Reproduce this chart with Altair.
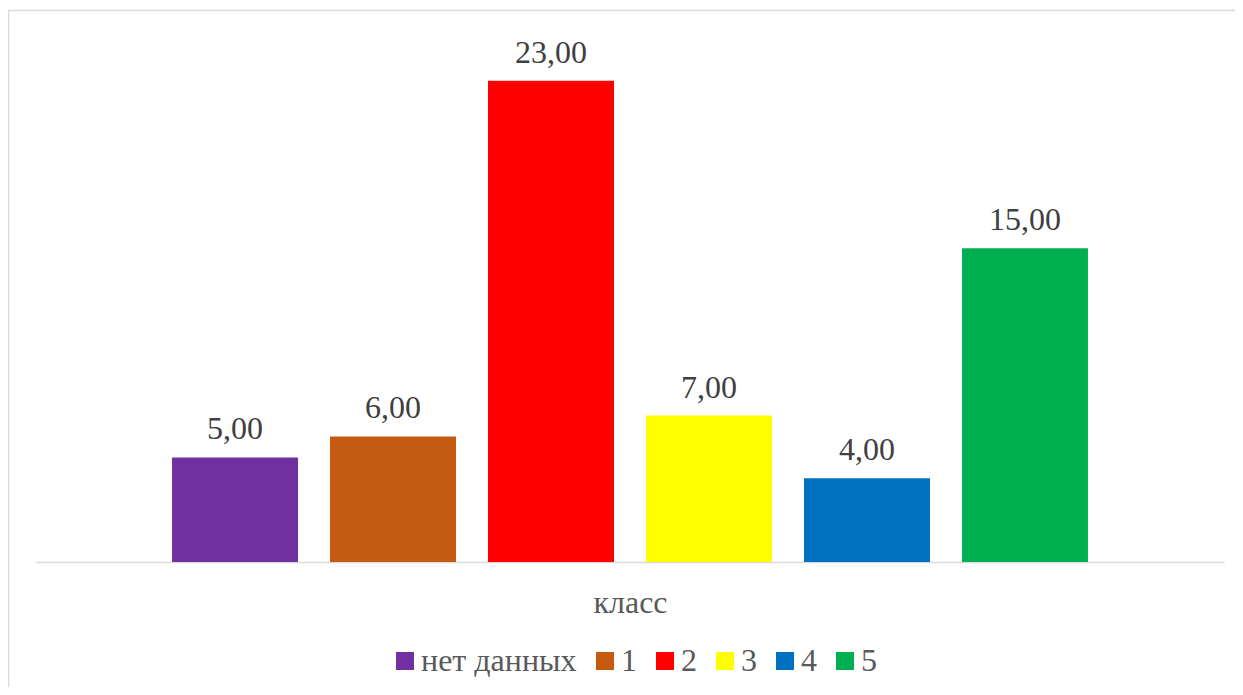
import altair as alt
import pandas as pd

series = ["нет данных", "1", "2", "3", "4", "5"]
values = [5, 6, 23, 7, 4, 15]
colors = ["#7030A0", "#C55A11", "#FF0000", "#FFFF00", "#0070C0", "#00B050"]
category = "класс"

df = pd.DataFrame({"series": series, "value": values})
FONT = "Liberation Serif"

W, H = 1188, 523

x = alt.X("series:N", sort=series,
          scale=alt.Scale(domain=series, paddingInner=0.2025, paddingOuter=0.861),
          axis=alt.Axis(title=category, labels=False, ticks=False, domainColor="#d9d9d9",
                        domainWidth=1.5, titleFont=FONT, titleFontSize=32,
                        titleFontWeight="normal", titleColor="#595959", titlePadding=25))
y = alt.Y("value:Q", scale=alt.Scale(domain=[0, 25], nice=False), axis=None)

base = alt.Chart(df)

bars = base.mark_bar().encode(
    x=x, y=y,
    color=alt.Color("series:N", sort=series,
                    scale=alt.Scale(domain=series, range=colors),
                    legend=alt.Legend(title=None, orient="none", direction="horizontal",
                                      legendX=353, legendY=606, padding=0,
                                      symbolType="square", symbolSize=324,
                                      symbolStrokeWidth=0, labelFont=FONT,
                                      labelFontSize=32, labelColor="#595959",
                                      labelLimit=400,
                                      columnPadding=12, labelOffset=0))
)

labels = base.transform_calculate(
    lab="replace(format(datum.value, '.2f'), '.', ',')"
).mark_text(font=FONT, fontSize=32, color="#404040", baseline="alphabetic", dy=-18).encode(
    x=alt.X("series:N", sort=series), y="value:Q", text="lab:N"
)

border = alt.Chart(pd.DataFrame({"a": [0]})).mark_rect(
    fill=None, stroke="#d9d9d9", strokeWidth=1.5
).encode(x=alt.value(-27.5), x2=alt.value(1300), y=alt.value(-28.5), y2=alt.value(800))

chart = alt.layer(border, bars, labels).properties(
    width=W, height=H,
    autosize=alt.AutoSizeParams(type="none"),
    padding={"left": 28, "top": 31, "right": 11, "bottom": 125},
).configure(background="white", font=FONT).configure_view(strokeWidth=0, stroke=None)

chart.save("out.html", embed_options={"renderer": "svg", "actions": False})
